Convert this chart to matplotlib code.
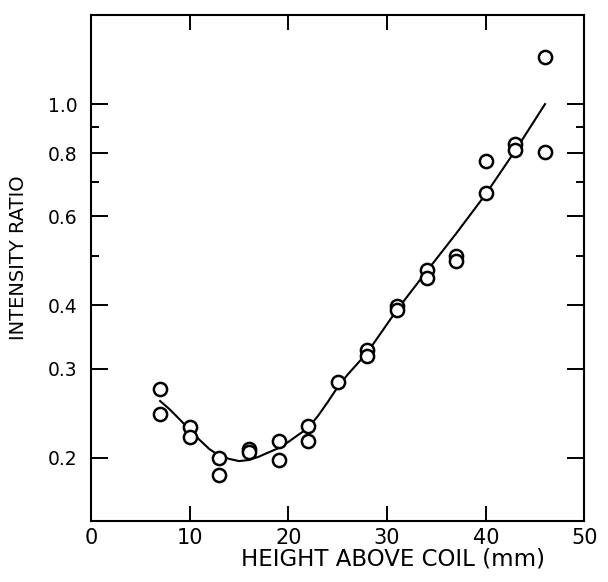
import matplotlib
matplotlib.use("Agg")
import matplotlib.pyplot as plt

# measured points (height in mm, intensity ratio)
x_pts = [7, 7, 10, 10, 13, 13, 16, 16, 19, 19, 22, 22, 25, 28, 28, 31, 31,
         34, 34, 37, 37, 40, 40, 43, 43, 46, 46]
y_pts = [0.274, 0.244, 0.230, 0.220, 0.200, 0.185, 0.208, 0.205, 0.216, 0.198,
         0.231, 0.216, 0.282, 0.327, 0.318, 0.399, 0.391, 0.469, 0.453, 0.500,
         0.489, 0.773, 0.668, 0.834, 0.811, 1.24, 0.803]

# smooth fitted curve
x_fit = [7, 8, 9, 10, 11, 12, 13, 14, 15, 16, 17, 18, 19, 20, 21, 22, 23, 24,
         25, 26, 27, 28, 31, 34, 37, 40, 43, 46]
y_fit = [0.259, 0.249, 0.238, 0.227, 0.217, 0.208, 0.202, 0.199, 0.197, 0.198,
         0.201, 0.205, 0.209, 0.215, 0.222, 0.229, 0.242, 0.258, 0.276, 0.292,
         0.307, 0.323, 0.392, 0.467, 0.555, 0.664, 0.81, 1.0]

x_ticks = [0, 10, 20, 30, 40, 50]
x_ticklabels = ["0", "10", "20", "30", "40", "50"]
y_ticks = [0.2, 0.3, 0.4, 0.6, 0.8, 1.0]
y_ticklabels = ["0.2", "0.3", "0.4", "0.6", "0.8", "1.0"]
y_minor = [0.5, 0.7, 0.9]

plt.rcParams['font.family'] = ['DejaVu Sans']

fig = plt.figure(figsize=(6.08, 5.82), dpi=100)
ax = fig.add_axes([0.1497, 0.1048, 0.9613 - 0.1497, 0.9742 - 0.1048])

ax.plot(x_fit, y_fit, color='black', lw=1.5)
ax.plot(x_pts, y_pts, linestyle='none', marker='o', markersize=9.5,
        markerfacecolor='white', markeredgecolor='black', markeredgewidth=1.8)

ax.set_yscale('log')
ax.set_xlim(0, 50)
ax.set_ylim(0.15, 1.5)

ax.set_xticks(x_ticks)
ax.set_xticklabels(x_ticklabels)
ax.set_yticks(y_ticks)
ax.set_yticklabels(y_ticklabels)
ax.set_yticks(y_minor, minor=True)
ax.set_yticklabels([], minor=True)
ax.set_xticks([], minor=True)

ax.tick_params(axis='x', which='major', direction='in', length=11, width=1.4,
               top=True, bottom=True, labelsize=15, pad=5)
ax.tick_params(axis='y', which='major', direction='in', length=12, width=1.4,
               left=True, right=True, labelsize=13.5, pad=10)
ax.tick_params(axis='y', which='minor', direction='in', length=6, width=1.4,
               left=True, right=True)
for s in ax.spines.values():
    s.set_linewidth(1.5)

ax.set_xlabel("HEIGHT ABOVE COIL (mm)", fontsize=16.5)
ax.xaxis.set_label_coords((393 - 91) / 493.5, -0.052)
ax.set_ylabel("INTENSITY RATIO", fontsize=14)
ax.yaxis.set_label_coords((28 - 91) / 493.5, 0.52)

fig.savefig("out.png", dpi=100)
